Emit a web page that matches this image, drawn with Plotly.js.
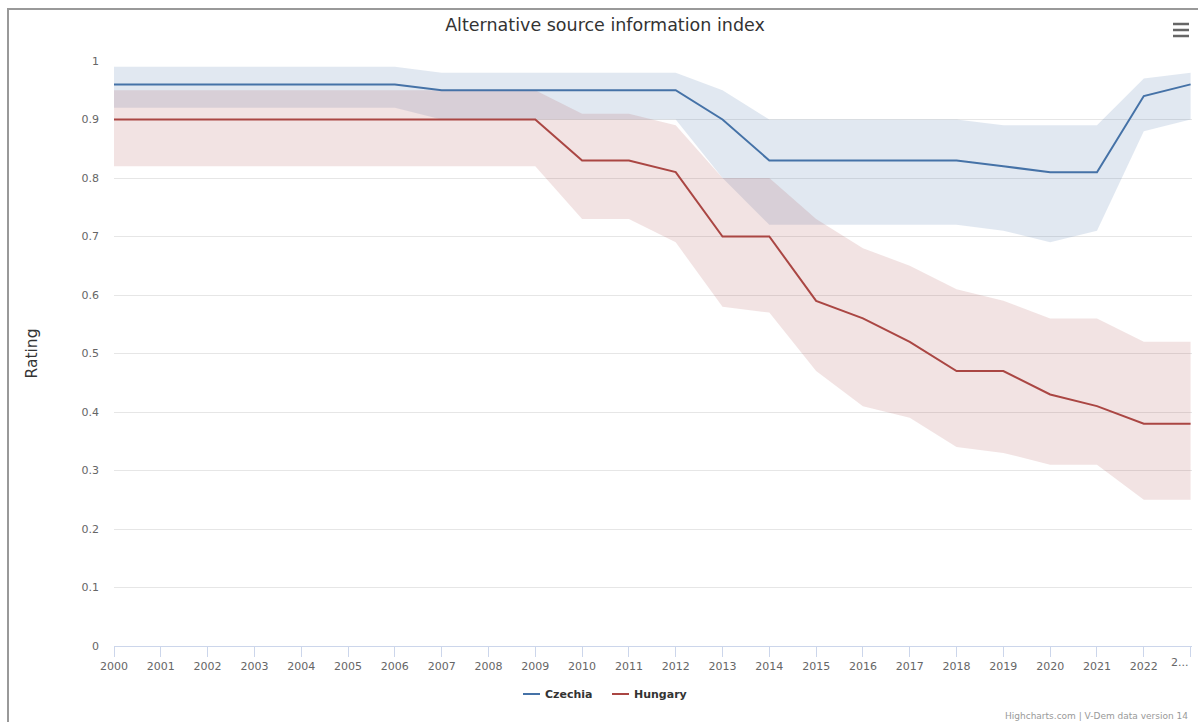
<!DOCTYPE html>
<html>
<head>
<meta charset="utf-8">
<script src="https://cdn.plot.ly/plotly-3.0.1.min.js"></script>
<style>html,body{margin:0;padding:0;background:#fff;}#chart{width:1198px;height:722px;}</style>
</head>
<body>
<div id="chart"></div>
<script>
const years = [2000,2001,2002,2003,2004,2005,2006,2007,2008,2009,2010,2011,2012,2013,2014,2015,2016,2017,2018,2019,2020,2021,2022,2023];
const tickLabels = ["2000","2001","2002","2003","2004","2005","2006","2007","2008","2009","2010","2011","2012","2013","2014","2015","2016","2017","2018","2019","2020","2021","2022","2..."];
const seriesNames = ["Czechia", "Hungary"];

const czechia      = [0.96,0.96,0.96,0.96,0.96,0.96,0.96,0.95,0.95,0.95,0.95,0.95,0.95,0.90,0.83,0.83,0.83,0.83,0.83,0.82,0.81,0.81,0.94,0.96];
const czechiaHigh  = [0.99,0.99,0.99,0.99,0.99,0.99,0.99,0.98,0.98,0.98,0.98,0.98,0.98,0.95,0.90,0.90,0.90,0.90,0.90,0.89,0.89,0.89,0.97,0.98];
const czechiaLow   = [0.92,0.92,0.92,0.92,0.92,0.92,0.92,0.90,0.90,0.90,0.90,0.90,0.90,0.80,0.72,0.72,0.72,0.72,0.72,0.71,0.69,0.71,0.88,0.90];

const hungary      = [0.90,0.90,0.90,0.90,0.90,0.90,0.90,0.90,0.90,0.90,0.83,0.83,0.81,0.70,0.70,0.59,0.56,0.52,0.47,0.47,0.43,0.41,0.38,0.38];
const hungaryHigh  = [0.95,0.95,0.95,0.95,0.95,0.95,0.95,0.95,0.95,0.95,0.91,0.91,0.89,0.80,0.80,0.73,0.68,0.65,0.61,0.59,0.56,0.56,0.52,0.52];
const hungaryLow   = [0.82,0.82,0.82,0.82,0.82,0.82,0.82,0.82,0.82,0.82,0.73,0.73,0.69,0.58,0.57,0.47,0.41,0.39,0.34,0.33,0.31,0.31,0.25,0.25];

const yTicks = [0,0.1,0.2,0.3,0.4,0.5,0.6,0.7,0.8,0.9,1];
const yTickLabels = ["0","0.1","0.2","0.3","0.4","0.5","0.6","0.7","0.8","0.9","1"];

const blue = '#4572A7';
const red = '#AA4643';
const blueFill = 'rgba(69,114,167,0.16)';
const redFill = 'rgba(170,70,67,0.15)';
const font = 'DejaVu Sans, Verdana, sans-serif';

const traces = [
  {x: years, y: czechiaHigh, mode: 'lines', line: {width: 0}, showlegend: false, hoverinfo: 'skip'},
  {x: years, y: czechiaLow, mode: 'lines', line: {width: 0}, fill: 'tonexty', fillcolor: blueFill, showlegend: false, hoverinfo: 'skip'},
  {x: years, y: hungaryHigh, mode: 'lines', line: {width: 0}, showlegend: false, hoverinfo: 'skip'},
  {x: years, y: hungaryLow, mode: 'lines', line: {width: 0}, fill: 'tonexty', fillcolor: redFill, showlegend: false, hoverinfo: 'skip'},
  {x: years, y: czechia, name: seriesNames[0], mode: 'lines', line: {color: blue, width: 2}, showlegend: false},
  {x: years, y: hungary, name: seriesNames[1], mode: 'lines', line: {color: red, width: 2}, showlegend: false}
];

// plot area: left 114, right 1192, top 61, bottom 646
const L = 114, R = 1192, T = 61, B = 646;
const px = v => (v - L) / (R - L);
const py = v => (B - v) / (B - T);

const lastIdx = years.length - 1;
const shownTickText = tickLabels.map((t, i) => i === lastIdx ? '' : t);

const shapes = [
  {type: 'line', xref: 'paper', yref: 'paper', x0: px(8), x1: px(8), y0: py(9), y1: py(730), line: {color: '#999', width: 2}},
  {type: 'line', xref: 'paper', yref: 'paper', x0: px(7), x1: px(1210), y0: py(9), y1: py(9), line: {color: '#999', width: 2}},
  {type: 'line', xref: 'paper', yref: 'paper', x0: px(1173), x1: px(1189), y0: py(24), y1: py(24), line: {color: '#666', width: 2.5}},
  {type: 'line', xref: 'paper', yref: 'paper', x0: px(1173), x1: px(1189), y0: py(30), y1: py(30), line: {color: '#666', width: 2.5}},
  {type: 'line', xref: 'paper', yref: 'paper', x0: px(1173), x1: px(1189), y0: py(36), y1: py(36), line: {color: '#666', width: 2.5}},
  // legend symbols
  {type: 'line', xref: 'paper', yref: 'paper', x0: px(523), x1: px(540), y0: py(694), y1: py(694), line: {color: blue, width: 2}},
  {type: 'line', xref: 'paper', yref: 'paper', x0: px(612), x1: px(629), y0: py(694), y1: py(694), line: {color: red, width: 2}}
];

const layout = {
  width: 1198, height: 722,
  margin: {l: L, r: 1198 - R, t: T, b: 722 - B, pad: 0},
  paper_bgcolor: '#fff', plot_bgcolor: '#fff',
  font: {family: font, color: '#666', size: 11},
  title: {text: 'Alternative source information index', x: 605/1198, xref: 'container', xanchor: 'center', y: 1 - 25/722, yref: 'container', yanchor: 'middle', font: {family: font, size: 17.5, color: '#333'}},
  xaxis: {
    range: [2000, 2023.03], tickmode: 'array', tickvals: years, ticktext: shownTickText,
    ticks: 'outside', ticklen: 10, tickcolor: '#ccd6eb', tickwidth: 1,
    showline: true, linecolor: '#ccd6eb', linewidth: 1,
    showgrid: false, zeroline: false, fixedrange: true,
    tickfont: {family: font, size: 11, color: '#666'}, tickangle: 0
  },
  yaxis: {
    range: [0, 1], tickmode: 'array', tickvals: yTicks, ticktext: yTickLabels,
    showgrid: true, gridcolor: '#e6e6e6', gridwidth: 1, zeroline: false, showline: false,
    ticks: '', ticklabelstandoff: 14, fixedrange: true,
    tickfont: {family: font, size: 11, color: '#666'},
    title: {text: 'Rating', standoff: 40, font: {family: font, size: 15.5, color: '#333'}}
  },
  showlegend: false,
  shapes: shapes,
  annotations: [
    {text: tickLabels[lastIdx], xref: 'x', yref: 'paper', x: years[lastIdx], y: py(663), xanchor: 'right', yanchor: 'middle', showarrow: false, font: {family: font, size: 11, color: '#666'}},
    {text: '<b>' + seriesNames[0] + '</b>', xref: 'paper', yref: 'paper', x: px(543), y: py(694), xanchor: 'left', yanchor: 'middle', showarrow: false, font: {family: font, size: 11, color: '#333'}},
    {text: '<b>' + seriesNames[1] + '</b>', xref: 'paper', yref: 'paper', x: px(632), y: py(694), xanchor: 'left', yanchor: 'middle', showarrow: false, font: {family: font, size: 11, color: '#333'}},
    {text: 'Highcharts.com | V-Dem data version 14', xref: 'paper', yref: 'paper', x: px(1190), y: py(716), xanchor: 'right', yanchor: 'middle', showarrow: false, font: {family: font, size: 9, color: '#999'}}
  ]
};

Plotly.newPlot('chart', traces, layout, {displayModeBar: false, staticPlot: true});
</script>
</body>
</html>
